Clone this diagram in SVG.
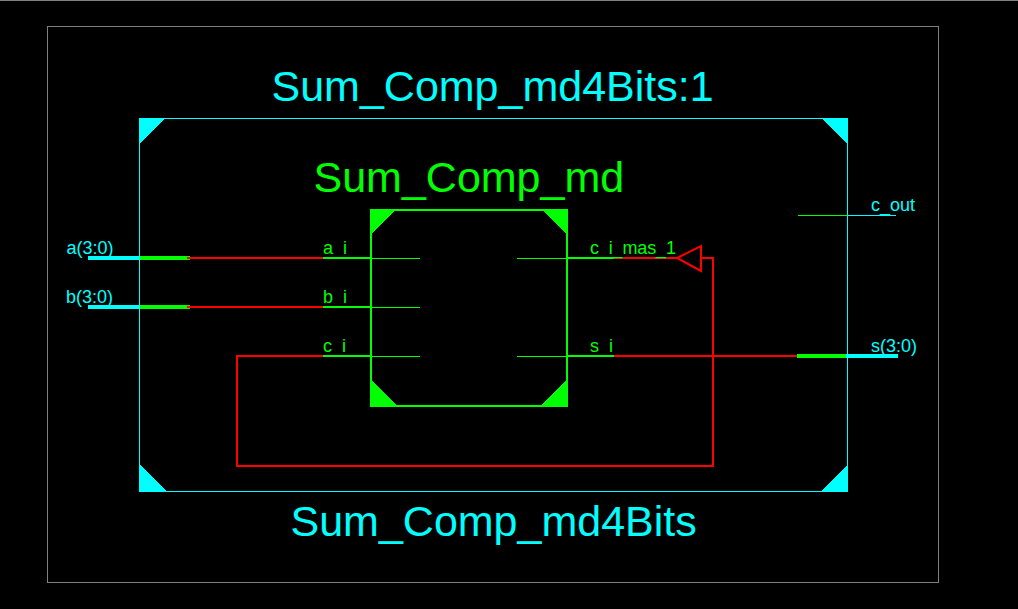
<svg xmlns="http://www.w3.org/2000/svg" width="1018" height="609" viewBox="0 0 1018 609">
<style>
text{font-family:"Liberation Sans",Arial,sans-serif}
.big{font-size:43px}
.sm{font-size:18px}
.c{fill:#0ff}
.g{fill:#0f0}
.t{shape-rendering:crispEdges}
.l{fill:none;shape-rendering:crispEdges}
.r2{stroke:#f00;stroke-width:2}
.g1{stroke:#0f0;stroke-width:1}
.g2{stroke:#0f0;stroke-width:2}
.g4{stroke:#0f0;stroke-width:4}
.c1{stroke:#0ff;stroke-width:1}
.c4{stroke:#0ff;stroke-width:4}
</style>
<rect width="1018" height="609" fill="#000"/>
<path class="l" d="M0 .5H1018" stroke="#808080"/>
<rect id="frame" class="l" x="47.5" y="26.5" width="891" height="556" stroke="#808080"/>
<g id="connectors">
<path class="l c4" d="M88 258H140M88 307H140M846 356H898"/>
<path class="l g4" d="M140 258H190M140 307H190M797 356H846"/>
<path class="l r2" d="M187 258H323M187 307H323M323 356H237V466H713V258H701M614 258H677M614 356H797"/>
<path class="l g2" d="M323 258H371M323 307H371M323 356H371M567 258H614M567 356H614"/>
<path class="l g1" d="M371 258.5H420M371 307.5H420M371 356.5H420M517 258.5H567M517 356.5H567M798 215.5H847"/>
<path class="l c1" d="M847 215.5H896"/>
</g>
<g id="Sum_Comp_md4Bits">
<rect class="l c1" x="139.5" y="118.5" width="708" height="373"/>
<path class="c t" d="M139 118H165L139 144ZM821 118H848V145ZM139 464L167 492H139ZM848 464V492H820Z"/>
<text class="big c" x="271.5" y="101">Sum_Comp_md4Bits:1</text>
<text class="big c" x="290.5" y="536">Sum_Comp_md4Bits</text>
</g>
<g id="Sum_Comp_md">
<rect class="l g2" x="371" y="210" width="196" height="196"/>
<path class="g t" d="M370 209H396L370 235ZM541 209H568V236ZM370 379L398 407H370ZM568 379V407H539Z"/>
<text class="big g" x="313.5" y="192">Sum_Comp_md</text>
<text class="sm g" x="323" y="253.5">a_i</text>
<text class="sm g" x="323" y="302.5">b_i</text>
<text class="sm g" x="323" y="351.5">c_i</text>
<text class="sm g" x="590" y="253.5" textLength="86">c_i_mas_1</text>
<text class="sm g" x="590" y="351.5">s_i</text>
</g>
<g id="ports">
<text class="sm c" x="66.5" y="254">a(3:0)</text>
<text class="sm c" x="66" y="303">b(3:0)</text>
<text class="sm c" x="871" y="211">c_out</text>
<text class="sm c" x="871" y="352">s(3:0)</text>
</g>
<g id="buffer">
<path d="M701 246V271L677 258Z" fill="none" stroke="#f00" stroke-width="2"/>
</g>
</svg>
